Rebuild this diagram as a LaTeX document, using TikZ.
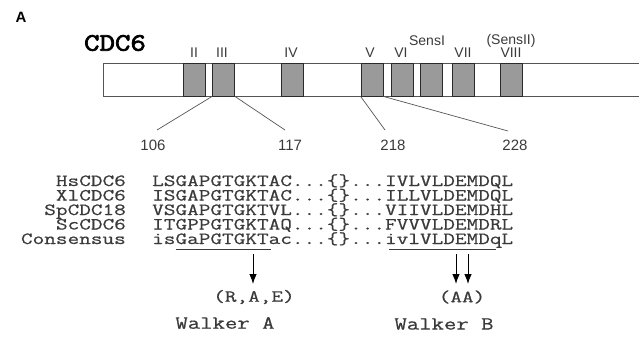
\documentclass[tikz,border=0pt]{standalone}
\usepackage{fontspec}
\setmainfont{Liberation Sans}
\newfontfamily\seqfont{Latin Modern Mono}[FakeStretch=1.33,FakeBold=0.7]
\newfontfamily\walkfont{Latin Modern Mono}[FakeStretch=1.3,FakeBold=0.7]
\newfontfamily\titlefont{Latin Modern Mono}[FakeStretch=1.2,FakeBold=3]
\usetikzlibrary{arrows.meta}
\definecolor{txt}{HTML}{3A3A3A}
\definecolor{boxfill}{HTML}{9A9A9A}
\definecolor{boxline}{HTML}{2A2A2A}
\definecolor{barline}{HTML}{555555}
\begin{document}
\begin{tikzpicture}[x=1pt,y=-1pt,
  dom/.style={draw=boxline, fill=boxfill, line width=0.8pt, minimum width=22pt, minimum height=33pt, inner sep=0pt},
  roman/.style={font=\fontsize{14}{14}\selectfont, text=txt, inner sep=0pt},
  num/.style={font=\fontsize{15}{15}\selectfont, text=txt, inner sep=0pt},
  seqtxt/.style={font=\seqfont\fontsize{17}{17}\selectfont, text=txt, inner sep=0pt, text height=9pt, text depth=2pt, anchor=base west},
  nametxt/.style={font=\seqfont\fontsize{17}{17}\selectfont, text=txt, inner sep=0pt, text height=9pt, text depth=2pt, anchor=base east},
  mono/.style={font=\seqfont\fontsize{17}{17}\selectfont, text=txt, inner sep=0pt},
  walker/.style={font=\walkfont\fontsize{18.5}{18.5}\selectfont, text=txt, inner sep=0pt},
  conn/.style={draw=barline, line width=0.7pt},
  arr/.style={draw=black, line width=1pt, -{Latex[length=10pt,width=7.5pt]}},
  uline/.style={draw=txt, line width=0.8pt}]
\useasboundingbox (0,0) rectangle (639,338);
% panel label and title
\node[font=\bfseries\fontsize{15}{15}\selectfont, inner sep=0pt] (lblA) at (21,17) {A};
\node[font=\titlefont\fontsize{25}{25}\selectfont, inner sep=0pt] (title) at (115,43) {CDC6};
% bar
\draw[barline, line width=0.8pt] (645,63) -- (103,63) -- (103,96) -- (645,96);
% domains
\node[dom] (II) at (194.5,79.5) {};
\node[dom] (III) at (223.5,79.5) {};
\node[dom] (IV) at (292,79.5) {};
\node[dom] (V) at (372,79.5) {};
\node[dom] (VI) at (402,79.5) {};
\node[dom] (SI) at (431.5,79.5) {};
\node[dom] (VII) at (463,79.5) {};
\node[dom] (VIII) at (511,79.5) {};
% domain labels
\node[roman] (lII) at (194,53) {II};
\node[roman] (lIII) at (222,53) {III};
\node[roman] (lIV) at (291,53) {IV};
\node[roman] (lV) at (370,53) {V};
\node[roman] (lVI) at (401,53) {VI};
\node[roman] (lSI) at (427,41) {SensI};
\node[roman] (lVII) at (463,53) {VII};
\node[roman] (lSII) at (511,41) {(SensII)};
\node[roman] (lVIII) at (511,53) {VIII};
% residue numbers
\node[num] (n106) at (153,145) {106};
\node[num] (n117) at (290,145) {117};
\node[num] (n218) at (393,145) {218};
\node[num] (n228) at (515,145) {228};
\coordinate (e106) at (157,130);
\coordinate (e117) at (285,130);
\coordinate (e218) at (385,130);
\coordinate (e228) at (508,131);
\draw[conn] (III.south west) -- (e106);
\draw[conn] (III.south east) -- (e117);
\draw[conn] (V.south west) -- (e218);
\draw[conn] (V.south east) -- (e228);
% alignment
\node[nametxt] (nHs) at (126,186) {HsCDC6};
\node[nametxt] (nXl) at (126,200.5) {XlCDC6};
\node[nametxt] (nSp) at (126,215) {SpCDC18};
\node[nametxt] (nSc) at (126,229.5) {ScCDC6};
\node[nametxt] (nCo) at (126,244) {Consensus};
\node[seqtxt] (sHs) at (152,186) {LSGAPGTGKTAC...\{\}...IVLVLDEMDQL};
\node[seqtxt] (sXl) at (152,200.5) {ISGAPGTGKTAC...\{\}...ILLVLDEMDQL};
\node[seqtxt] (sSp) at (152,215) {VSGAPGTGKTVL...\{\}...VIIVLDEMDHL};
\node[seqtxt] (sSc) at (152,229.5) {ITGPPGTGKTAQ...\{\}...FVVVLDEMDRL};
\node[seqtxt] (sCo) at (152,244) {isGaPGTGKTac...\{\}...ivlVLDEMDqL};
% underlines (char width ~11.87)
\coordinate (uA1) at (175.7,249.5);
\coordinate (uA2) at (270.7,249.5);
\coordinate (uB1) at (389.4,249.5);
\coordinate (uB2) at (496.2,249.5);
\draw[uline] (uA1) -- (uA2);
\draw[uline] (uB1) -- (uB2);
% mutation labels
\node[mono] (rae) at (254,297) {(R,A,E)};
\node[mono] (aa) at (462,297) {(AA)};
\coordinate (kA) at (253,254);
\coordinate (dB) at (456,254);
\coordinate (eB) at (468,254);
\draw[arr] (kA) -- (kA |- 0,284);
\draw[arr] (dB) -- (dB |- 0,284);
\draw[arr] (eB) -- (eB |- 0,284);
\node[walker] (wA) at (225,323) {Walker A};
\node[walker] (wB) at (444,324) {Walker B};
\end{tikzpicture}
\end{document}
